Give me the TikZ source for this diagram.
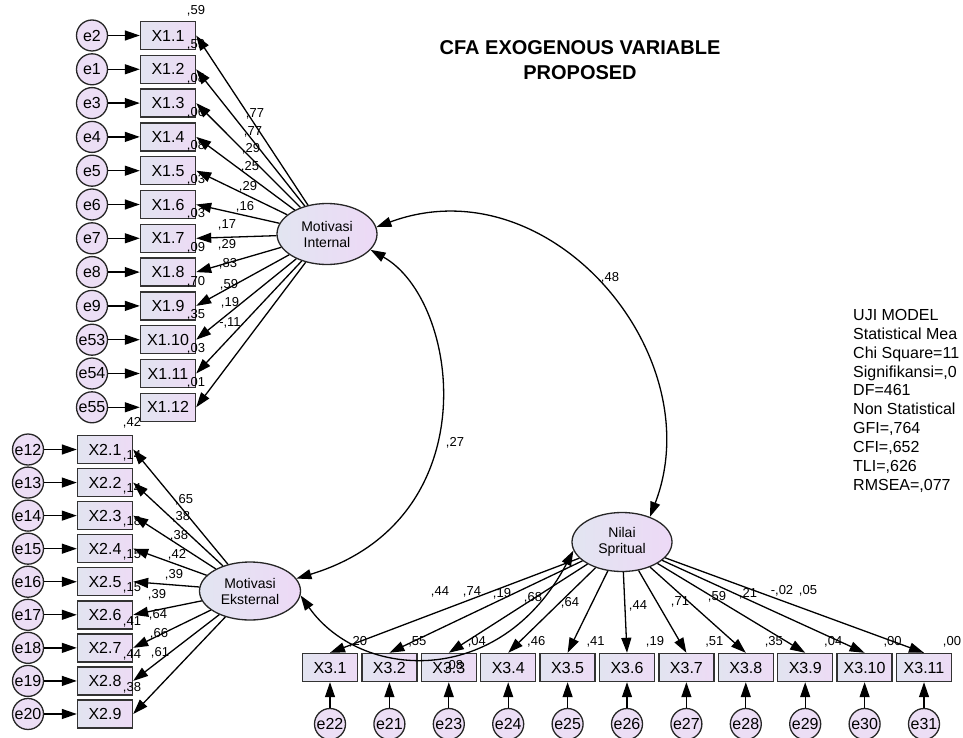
\documentclass[tikz,border=0pt]{standalone}
\usepackage{fontspec}
\setmainfont{Liberation Sans}
\usetikzlibrary{arrows.meta,shapes.geometric}

\definecolor{obsleft}{RGB}{226,228,240}
\definecolor{obsright}{RGB}{237,219,245}
\definecolor{errfill}{RGB}{236,222,245}
\definecolor{latleft}{RGB}{226,229,241}
\definecolor{latright}{RGB}{237,217,246}

\tikzset{
  obs/.style={draw=black!80, line width=1.4pt, rectangle, minimum width=55pt, minimum height=28pt,
    inner sep=0pt, left color=obsleft, right color=obsright, font=\fontsize{16}{18}\selectfont},
  err/.style={draw=black!85, line width=1.3pt, circle, minimum size=31pt, inner sep=0pt,
    fill=errfill, font=\fontsize{16}{18}\selectfont},
  lat/.style={draw=black!85, line width=1.3pt, ellipse, inner sep=0pt, align=center,
    left color=latleft, right color=latright, font=\fontsize{14}{16}\selectfont},
  reg/.style={line width=1.3pt, -{Triangle[length=15pt,width=10pt]}},
  cov/.style={line width=1.3pt, {Triangle[length=15pt,width=10pt]}-{Triangle[length=15pt,width=10pt]}},
  coef/.style={inner sep=0pt, font=\fontsize{13}{15}\selectfont},
}

\begin{document}
\begin{tikzpicture}[x=1pt,y=-1pt]
  \useasboundingbox (0,0) rectangle (963,738);
  \clip (0,0) rectangle (963,738);

  % Judul
  \node[align=center, inner sep=0pt, font=\bfseries\fontsize{20}{25}\selectfont] (judul) at (580,60.4)
    {CFA EXOGENOUS VARIABLE\\PROPOSED};

  % Uji model
  \node[anchor=north west, align=left, inner sep=0pt, font=\fontsize{16}{18.9}\selectfont] (uji) at (853,309)
    {UJI MODEL\\Statistical Mea\\Chi Square=11\\Signifikansi=,0\\DF=461\\Non Statistical\\GFI=,764\\CFI=,652\\TLI=,626\\RMSEA=,077};

  % Variabel laten
  \node[lat, minimum width=100pt, minimum height=61pt] (mi) at (327,234) {Motivasi\\Internal};
  \node[lat, minimum width=101pt, minimum height=58pt] (me) at (250,591) {Motivasi\\Eksternal};
  \node[lat, minimum width=100pt, minimum height=59pt] (ns) at (622,542) {Nilai\\Spritual};

  % Indikator X1
  \foreach \i/\e/\lam/\lx/\ly/\rsq in {1/2/{,77}/255/114/{,59}, 2/1/{,77}/253/132/{,59},
      3/3/{,29}/251/149/{,08}, 4/4/{,25}/250/167/{,06}, 5/5/{,29}/248/187/{,08},
      6/6/{,16}/245/207/{,03}, 7/7/{,17}/227/225/{,03}, 8/8/{,29}/227/245/{,09},
      9/9/{,83}/228/264/{,70}, 10/53/{,59}/229/285/{,35}, 11/54/{,19}/230/303/{,03},
      12/55/{-,11}/230/323/{,01}}{
    \node[obs] (x1-\i) at (168,{35.5+33.8*(\i-1)}) {X1.\i};
    \node[err] (e\e) at (92,{35.5+33.8*(\i-1)}) {e\e};
    \node[coef] (r1-\i) at (196,{11+33.8*(\i-1)}) {\rsq};
    \node[coef] (l1-\i) at (\lx,\ly) {\lam};
    \draw[reg] (e\e) -- (x1-\i);
    \draw[reg] (mi) -- (x1-\i.east);
  }

  % Indikator X2
  \foreach \i/\e/\lam/\lx/\ly/\rsq in {1/12/{,65}/184/500/{,42}, 2/13/{,38}/181/517/{,14},
      3/14/{,38}/179/536/{,14}, 4/15/{,42}/177/555/{,18}, 5/16/{,39}/174/575/{,15},
      6/17/{,39}/157/595/{,15}, 7/18/{,64}/158/615/{,41}, 8/19/{,66}/159/634/{,44},
      9/20/{,61}/160/653/{,38}}{
    \node[obs] (x2-\i) at (105,{449.5+33.06*(\i-1)}) {X2.\i};
    \node[err] (e\e) at (28,{449.5+33.06*(\i-1)}) {e\e};
    \node[coef] (r2-\i) at (132,{423+33.06*(\i-1)}) {\rsq};
    \node[coef] (l2-\i) at (\lx,\ly) {\lam};
    \draw[reg] (e\e) -- (x2-\i);
    \draw[reg] (me) -- (x2-\i.east);
  }

  % Indikator X3
  \foreach \i/\e/\lam/\lx/\ly/\rsq in {1/22/{,44}/440/592/{,20}, 2/21/{,74}/472/592/{,55},
      3/23/{,19}/502/594/{,04}, 4/24/{,68}/533/598/{,46}, 5/25/{,64}/570/603/{,41},
      6/26/{,44}/638/606/{,19}, 7/27/{,71}/680/602/{,51}, 8/28/{,59}/717/597/{,35},
      9/29/{,21}/748/594/{,04}, 10/30/{-,02}/782/591/{,00}, 11/31/{,05}/808/591/{,00}}{
    \node[obs] (x3-\i) at ({330+59.4*(\i-1)},667.5) {X3.\i};
    \node[err] (e\e) at ({330+59.4*(\i-1)},724) {e\e};
    \node[coef] (r3-\i) at ({358+59.4*(\i-1)},642) {\rsq};
    \node[coef] (l3-\i) at (\lx,\ly) {\lam};
    \draw[reg] (e\e) -- (x3-\i);
    \draw[reg] (ns) -- (x3-\i.north);
  }

  % Kovarians
  \draw[cov] (mi.8) .. controls (550,163) and (712,355) .. (ns.42);
  \node[coef] (k1) at (610,278) {,48};
  \draw[cov] (mi.-20) .. controls (460,300) and (490,520) .. (me.15);
  \node[coef] (k2) at (455,443) {,27};
  \draw[cov] (me.-5) .. controls (360,680) and (500,690) .. (ns.190);
  \node[coef] (k3) at (454,666) {,08};
\end{tikzpicture}
\end{document}
